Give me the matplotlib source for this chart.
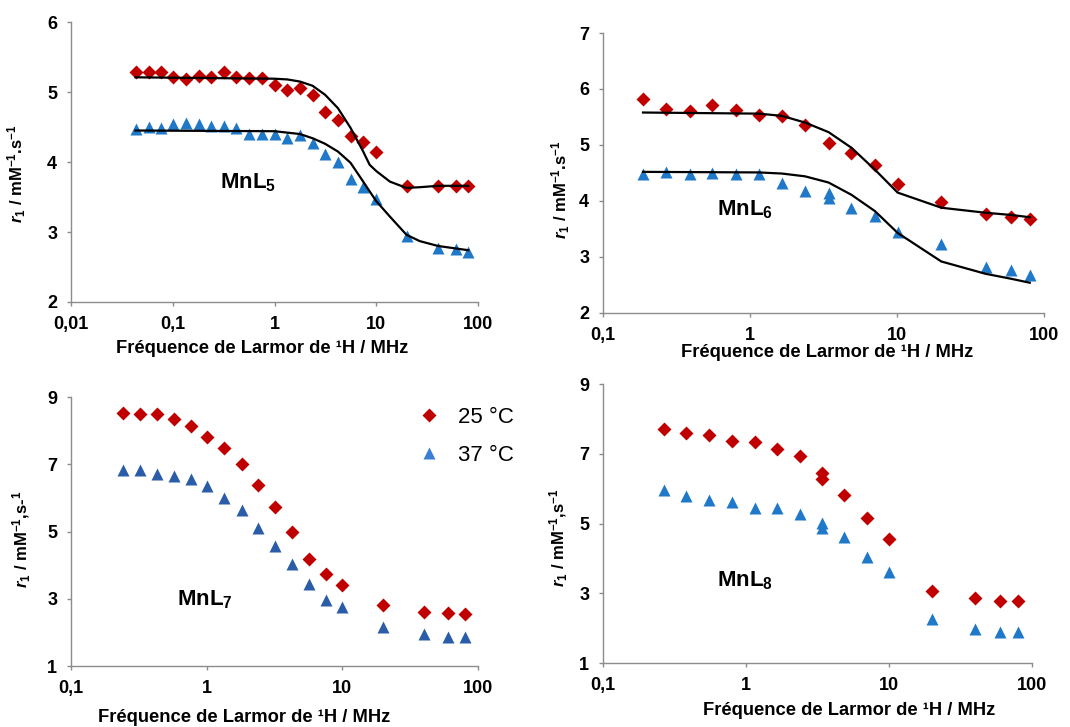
import matplotlib
matplotlib.use("Agg")
import matplotlib.pyplot as plt
from matplotlib.lines import Line2D

plt.rcParams['font.family'] = ['Liberation Sans', 'DejaVu Sans']
plt.rcParams['mathtext.fontset'] = 'custom'
plt.rcParams['mathtext.rm'] = 'Liberation Sans:bold'
plt.rcParams['mathtext.it'] = 'Liberation Sans:italic:bold'
plt.rcParams['mathtext.bf'] = 'Liberation Sans:bold'

# ---- MnL5 ----
f5 = [0.043, 0.058, 0.076, 0.1, 0.136, 0.18, 0.24, 0.32, 0.42, 0.56, 0.75, 1.0,
      1.33, 1.77, 2.36, 3.14, 4.2, 5.6, 7.4, 10, 20, 40, 60, 80]
r5_25 = [5.29, 5.29, 5.29, 5.22, 5.19, 5.23, 5.22, 5.29, 5.22, 5.2, 5.2, 5.10,
         5.03, 5.06, 4.96, 4.72, 4.60, 4.37, 4.28, 4.14, 3.66, 3.66, 3.66, 3.66]
r5_37 = [4.47, 4.50, 4.49, 4.54, 4.56, 4.55, 4.52, 4.52, 4.49, 4.40, 4.40, 4.40,
         4.34, 4.38, 4.27, 4.11, 4.00, 3.76, 3.64, 3.47, 2.94, 2.77, 2.76, 2.72]
fit5_f = [0.043, 1.0, 1.33, 1.77, 2.36, 3.14, 4.19, 5.57, 7.43, 8.6, 10, 13.6, 19.8, 26.7, 40.5, 80]
fit5_25 = [5.21, 5.19, 5.18, 5.15, 5.09, 4.96, 4.77, 4.49, 4.15, 3.96, 3.87, 3.72, 3.63, 3.64, 3.66, 3.66]
fit5_37 = [4.45, 4.44, 4.42, 4.40, 4.34, 4.26, 4.15, 3.99, 3.72, 3.58, 3.44, 3.22, 2.96, 2.87, 2.80, 2.74]

# ---- MnL6 ----
f6 = [0.187, 0.27, 0.39, 0.555, 0.8, 1.15, 1.65, 2.37, 3.42, 4.9, 7.07, 10.1, 20, 40, 60, 80]
r6_25 = [5.82, 5.65, 5.61, 5.71, 5.62, 5.54, 5.51, 5.36, 5.04, 4.85, 4.64, 4.30, 3.99, 3.76, 3.71, 3.68]
f6_37 = [0.187, 0.27, 0.39, 0.555, 0.8, 1.15, 1.65, 2.37, 3.42, 3.42, 4.9, 7.07, 10.1, 20, 40, 60, 80]
r6_37 = [4.49, 4.51, 4.49, 4.50, 4.49, 4.48, 4.33, 4.18, 4.14, 4.05, 3.88, 3.74, 3.45, 3.24, 2.82, 2.77, 2.67]
fit6_f = [0.187, 1.15, 1.65, 2.37, 3.42, 4.9, 7.07, 10.1, 20, 40, 60, 80]
fit6_25 = [5.58, 5.56, 5.52, 5.40, 5.23, 4.95, 4.56, 4.15, 3.88, 3.79, 3.75, 3.71]
fit6_37 = [4.52, 4.51, 4.49, 4.44, 4.33, 4.11, 3.82, 3.43, 2.92, 2.70, 2.61, 2.54]

# ---- MnL7 ----
f7 = [0.243, 0.324, 0.432, 0.574, 0.761, 1.0, 1.35, 1.81, 2.4, 3.18, 4.25, 5.69, 7.6, 10, 20, 40, 60, 80]
r7_25 = [8.52, 8.49, 8.49, 8.36, 8.13, 7.81, 7.49, 7.00, 6.37, 5.73, 5.00, 4.18, 3.73, 3.42, 2.80, 2.62, 2.58, 2.54]
r7_37 = [6.82, 6.84, 6.72, 6.65, 6.56, 6.36, 6.00, 5.65, 5.11, 4.57, 4.02, 3.45, 2.95, 2.74, 2.16, 1.94, 1.86, 1.86]

# ---- MnL8 ----
f8 = [0.267, 0.383, 0.553, 0.797, 1.15, 1.65, 2.37, 3.4, 3.4, 4.88, 7.03, 10, 20, 40, 60, 80]
r8_25 = [7.70, 7.60, 7.54, 7.36, 7.35, 7.15, 6.94, 6.46, 6.29, 5.81, 5.17, 4.55, 3.07, 2.86, 2.79, 2.79]
r8_37 = [5.96, 5.79, 5.68, 5.62, 5.44, 5.45, 5.28, 5.01, 4.86, 4.60, 4.05, 3.60, 2.26, 1.97, 1.90, 1.88]

legend_labels = ['25 °C', '37 °C']
xlabel = 'Fréquence de Larmor de ¹H / MHz'

RED = '#C00000'
BLUE = '#1F78C8'
NAVY = '#2A5CA8'
GREY = '#8C8C8C'

fig = plt.figure(figsize=(10.7, 7.27), dpi=100)


def style(ax, xlim, xticks, xticklabels, ylim, yticks):
    ax.set_xscale('log')
    ax.set_xlim(*xlim)
    ax.set_ylim(*ylim)
    ax.set_xticks(xticks)
    ax.set_xticklabels(xticklabels)
    ax.minorticks_off()
    ax.set_yticks(yticks)
    for s in ['top', 'right']:
        ax.spines[s].set_visible(False)
    for s in ['left', 'bottom']:
        ax.spines[s].set_color(GREY)
        ax.spines[s].set_linewidth(1.0)
    ax.tick_params(axis='both', direction='out', length=3, width=1, color=GREY,
                   labelsize=13)
    ax.tick_params(axis='x', pad=7)
    ax.tick_params(axis='y', pad=7)
    for lb in ax.get_xticklabels() + ax.get_yticklabels():
        lb.set_fontweight('bold')


# panel 1 - MnL5
ax1 = fig.add_axes([0.0664, 0.5846, 0.3804, 0.3851])
ax1.plot(fit5_f, fit5_25, '-', color='black', lw=1.6, zorder=3)
ax1.plot(fit5_f, fit5_37, '-', color='black', lw=1.6, zorder=3)
ax1.plot(f5, r5_25, 'D', color=RED, ms=7, mec='none', zorder=2)
ax1.plot(f5, r5_37, '^', color=BLUE, ms=9, mec='none', zorder=2)
style(ax1, (0.01, 100), [0.01, 0.1, 1, 10, 100], ['0,01', '0,1', '1', '10', '100'], (2, 6), [2, 3, 4, 5, 6])
ax1.set_xlabel(xlabel, fontsize=13.2, fontweight='bold')
ax1.xaxis.set_label_coords(0.469, -0.136)
ax1.set_ylabel(r'$\mathit{r_1}$ / mM$^{-1}$.s$^{-1}$', fontsize=12, fontweight='bold')
ax1.yaxis.set_label_coords(-0.106, 0.46)
ax1.text(0.366, 0.425, 'MnL$_5$', transform=ax1.transAxes, fontsize=16, fontweight='bold',
         va='center', ha='left')

# panel 2 - MnL6
ax2 = fig.add_axes([0.5636, 0.5695, 0.4121, 0.3851])
ax2.plot(fit6_f, fit6_25, '-', color='black', lw=1.6, zorder=3)
ax2.plot(fit6_f, fit6_37, '-', color='black', lw=1.6, zorder=3)
ax2.plot(f6, r6_25, 'D', color=RED, ms=7, mec='none', zorder=2)
ax2.plot(f6_37, r6_37, '^', color=BLUE, ms=9, mec='none', zorder=2)
style(ax2, (0.1, 100), [0.1, 1, 10, 100], ['0,1', '1', '10', '100'], (2, 7), [2, 3, 4, 5, 6, 7])
ax2.set_xlabel(xlabel, fontsize=13.2, fontweight='bold')
ax2.xaxis.set_label_coords(0.508, -0.111)
ax2.set_ylabel(r'$\mathit{r_1}$ / mM$^{-1}$.s$^{-1}$', fontsize=12, fontweight='bold')
ax2.yaxis.set_label_coords(-0.07, 0.44)
ax2.text(0.258, 0.368, 'MnL$_6$', transform=ax2.transAxes, fontsize=16, fontweight='bold',
         va='center', ha='left')

# panel 3 - MnL7
ax3 = fig.add_axes([0.0664, 0.0839, 0.3804, 0.370])
ax3.plot(f7, r7_25, 'D', color=RED, ms=7, mec='none')
ax3.plot(f7, r7_37, '^', color=NAVY, ms=8.5, mec='none')
style(ax3, (0.1, 100), [0.1, 1, 10, 100], ['0,1', '1', '10', '100'], (1, 9), [1, 3, 5, 7, 9])
ax3.set_xlabel(xlabel, fontsize=13.2, fontweight='bold')
ax3.xaxis.set_label_coords(0.425, -0.16)
ax3.set_ylabel(r'$r_1$ / mM$^{-1}$,s-$^{1}$', fontsize=12, fontweight='bold')
ax3.yaxis.set_label_coords(-0.093, 0.472)
ax3.text(0.26, 0.245, 'MnL$_7$', transform=ax3.transAxes, fontsize=16, fontweight='bold',
         va='center', ha='left')
handles = [Line2D([], [], ls='none', marker='D', color=RED, ms=7, mec='none'),
           Line2D([], [], ls='none', marker='^', color='#3A7FD5', ms=9, mec='none')]
ax3.legend(handles, legend_labels, loc='upper left', bbox_to_anchor=(0.83, 0.995),
           borderaxespad=0, frameon=False, fontsize=16, handlelength=1.0,
           handletextpad=0.8, labelspacing=0.75)

# panel 4 - MnL8
ax4 = fig.add_axes([0.5636, 0.0880, 0.4009, 0.3838])
ax4.plot(f8, r8_25, 'D', color=RED, ms=7, mec='none')
ax4.plot(f8, r8_37, '^', color=BLUE, ms=9, mec='none')
style(ax4, (0.1, 100), [0.1, 1, 10, 100], ['0,1', '1', '10', '100'], (1, 9), [1, 3, 5, 7, 9])
ax4.set_xlabel(xlabel, fontsize=13.2, fontweight='bold')
ax4.xaxis.set_label_coords(0.573, -0.14)
ax4.set_ylabel(r'$r_1$ / mM$^{-1}$,s$^{-1}$', fontsize=12, fontweight='bold')
ax4.yaxis.set_label_coords(-0.077, 0.448)
ax4.text(0.266, 0.294, 'MnL$_8$', transform=ax4.transAxes, fontsize=16, fontweight='bold',
         va='center', ha='left')

fig.savefig('out.png', dpi=100)
